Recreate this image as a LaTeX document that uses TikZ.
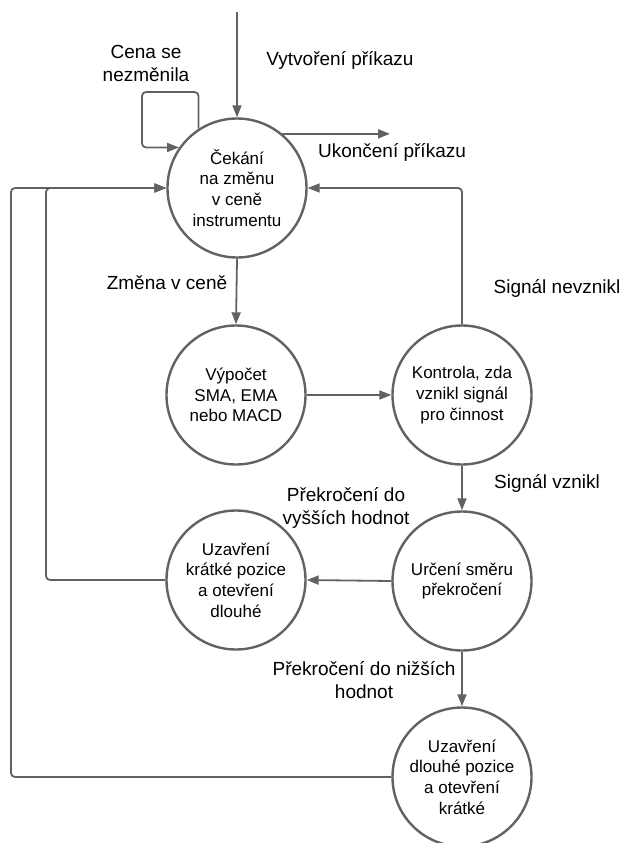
\documentclass[tikz,border=0pt]{standalone}
\usepackage{fontspec}
\setmainfont{Liberation Sans}
\usetikzlibrary{arrows.meta}
\definecolor{lc}{RGB}{98,98,98}
\tikzset{
  state/.style={circle, draw=lc, line width=2.4pt, minimum size=139pt, inner sep=0pt, align=center, font=\fontsize{17pt}{20.7pt}\selectfont, fill=white},
  lbl/.style={align=center, font=\fontsize{19pt}{23pt}\selectfont, inner sep=0pt},
  arr/.style={draw=lc, line width=1.8pt, -{Triangle[length=12pt,width=9pt]}, rounded corners=4pt},
  ln/.style={draw=lc, line width=1.8pt, rounded corners=4pt}
}
\begin{document}
\begin{tikzpicture}[x=1pt,y=-1pt]
\useasboundingbox (0,0) rectangle (622,843);
\node[state] (c1) at (237,188) {Čekání\\na změnu\\v ceně\\instrumentu};
\node[state] (c2) at (236,395) {Výpočet\\SMA, EMA\\nebo MACD};
\node[state] (c3) at (462,395) {Kontrola, zda\\vznikl signál\\pro činnost};
\node[state] (c4) at (462,581) {Určení směru\\překročení};
\node[state] (c5) at (236,580) {Uzavření\\krátké pozice\\a otevření\\dlouhé};
\node[state] (c6) at (462,777) {Uzavření\\dlouhé pozice\\a otevření\\krátké};

\coordinate (top) at (237,12);
\coordinate (loopc) at (142,92);
\coordinate (endU) at (390,135);
\coordinate (outer) at (11,188);
\coordinate (inner) at (46,188);

\draw[arr] (top) -- (c1.north);
\draw[arr] (c1.123) |- (loopc) |- (c1.145);
\draw[arr] (c1.50) -- (c1.50 -| endU);
\draw[arr] (c6.west) -| (outer) -- (c1.west);
\draw[arr] (c5.west) -| (inner) -- (c1.west);
\draw[arr] (c3.north) |- (c1.east);
\draw[arr] (c1.south) -- (c2.north);
\draw[arr] (c2.east) -- (c3.west);
\draw[arr] (c3.south) -- (c4.north);
\draw[arr] (c4.west) -- (c5.east);
\draw[arr] (c4.south) -- (c6.north);

\node[lbl] (l1) at (340,60) {Vytvoření příkazu};
\node[lbl] (l2) at (146,63) {Cena se\\nezměnila};
\node[lbl] (l3) at (392,152) {Ukončení příkazu};
\node[lbl] (l4) at (167,283) {Změna v ceně};
\node[lbl] (l5) at (557,288) {Signál nevznikl};
\node[lbl] (l6) at (547,483) {Signál vznikl};
\node[lbl] (l7) at (346,508) {Překročení do\\vyšších hodnot};
\node[lbl] (l8) at (364,680) {Překročení do nižších\\hodnot};
\end{tikzpicture}
\end{document}
